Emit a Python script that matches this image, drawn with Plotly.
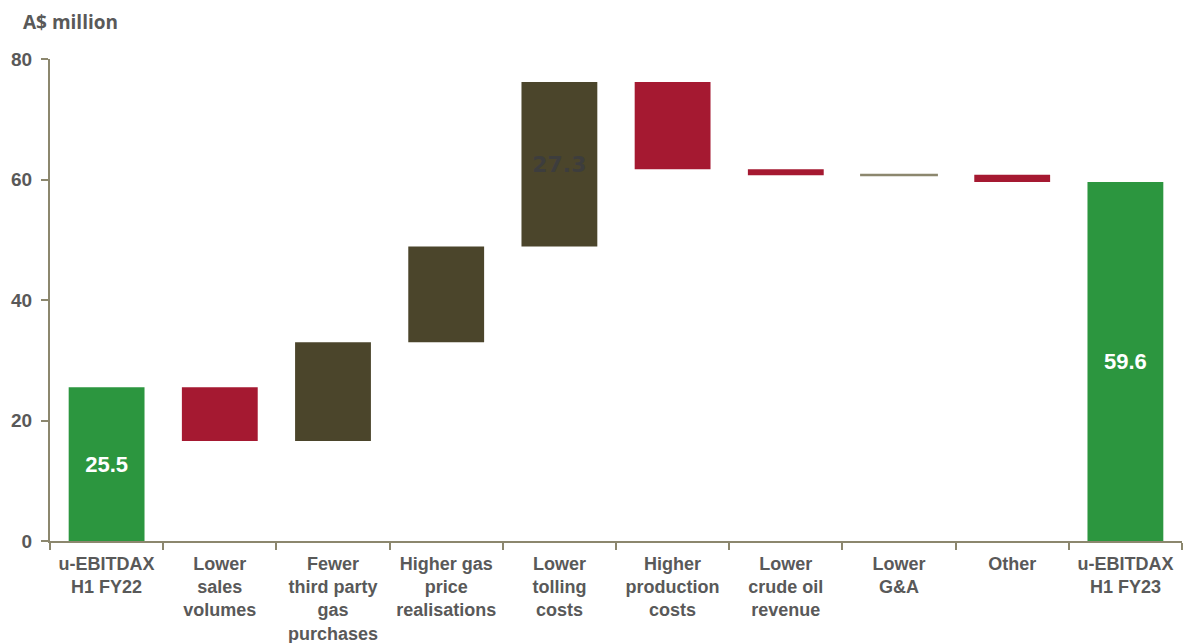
import plotly.graph_objects as go

categories = ["u-EBITDAX<br>H1 FY22", "Lower<br>sales<br>volumes", "Fewer<br>third party<br>gas<br>purchases",
              "Higher gas<br>price<br>realisations", "Lower<br>tolling<br>costs", "Higher<br>production<br>costs",
              "Lower<br>crude oil<br>revenue", "Lower<br>G&A", "Other", "u-EBITDAX<br>H1 FY23"]
measures = ["absolute", "relative", "relative", "relative", "relative", "relative", "relative", "relative", "relative", "total"]
values = [25.5, -8.9, 16.4, 15.9, 27.3, -14.5, -1.0, 0.1, -1.2, 59.6]
labels = ["25.5", "", "", "", "27.3", "", "", "", "", "59.6"]

GREEN = "#2c963f"
RED = "#a51931"
OLIVE = "#4b452b"

bases, heights, colors, lcolors, lwidths = [], [], [], [], []
running = 0.0
for m, v in zip(measures, values):
    if m == "absolute":
        bases.append(0); heights.append(v); running = v; colors.append(GREEN)
    elif m == "total":
        bases.append(0); heights.append(running); colors.append(GREEN)
    else:
        if v >= 0:
            bases.append(running); heights.append(v); colors.append(OLIVE)
        else:
            bases.append(running + v); heights.append(-v); colors.append(RED)
        running += v
    if abs(v) < 0.5:
        lcolors.append("#8c876e"); lwidths.append(2)
    else:
        lcolors.append("rgba(0,0,0,0)"); lwidths.append(0)

text_colors = ["white" if c == GREEN else "#3d3d3d" for c in colors]
text_fonts = ["Liberation Sans" if c == GREEN else "DejaVu Sans" for c in colors]
text_labels = [f"<b>{t}</b>" if t else "" for t in labels]

fig = go.Figure(go.Bar(
    x=categories, y=heights, base=bases,
    marker=dict(color=colors, line=dict(color=lcolors, width=lwidths)),
    text=text_labels, textposition="inside", insidetextanchor="middle",
    textfont=dict(family=text_fonts, size=22, color=text_colors),
    textangle=0, hoverinfo="skip", cliponaxis=False,
))

fig.update_layout(
    width=1183, height=643,
    margin=dict(l=50, r=1, t=59, b=102, autoexpand=False),
    plot_bgcolor="white", paper_bgcolor="white",
    bargap=0.33, showlegend=False,
    font=dict(family="Liberation Sans, Arial", color="#595959"),
    annotations=[dict(text="<b>A$ million</b>", x=0, y=1, xref="paper", yref="paper",
                      xshift=-29, yshift=37, xanchor="left", yanchor="middle", showarrow=False,
                      font=dict(family="Open Sans", size=19, color="#595959"))],
)
fig.update_yaxes(range=[0, 80], dtick=20, showgrid=False, zeroline=False,
                 showline=True, linecolor="#8c876e", linewidth=2,
                 ticks="outside", ticklen=7, tickcolor="#8c876e", tickwidth=1.5,
                 ticklabelstandoff=5, automargin=False,
                 tickfont=dict(size=19, color="#595959", family="Liberation Sans, Arial"),
                 tickprefix="<b>", ticksuffix="</b>")
fig.update_xaxes(showgrid=False, showline=True, linecolor="#8c876e", linewidth=2,
                 ticks="outside", tickson="boundaries", ticklen=7, tickcolor="#8c876e", tickwidth=1.5,
                 ticklabelstandoff=5, tickangle=0, automargin=False,
                 tickfont=dict(size=18, color="#595959", family="Liberation Sans, Arial"),
                 tickprefix="<b>", ticksuffix="</b>")

fig.write_html("out.html")
